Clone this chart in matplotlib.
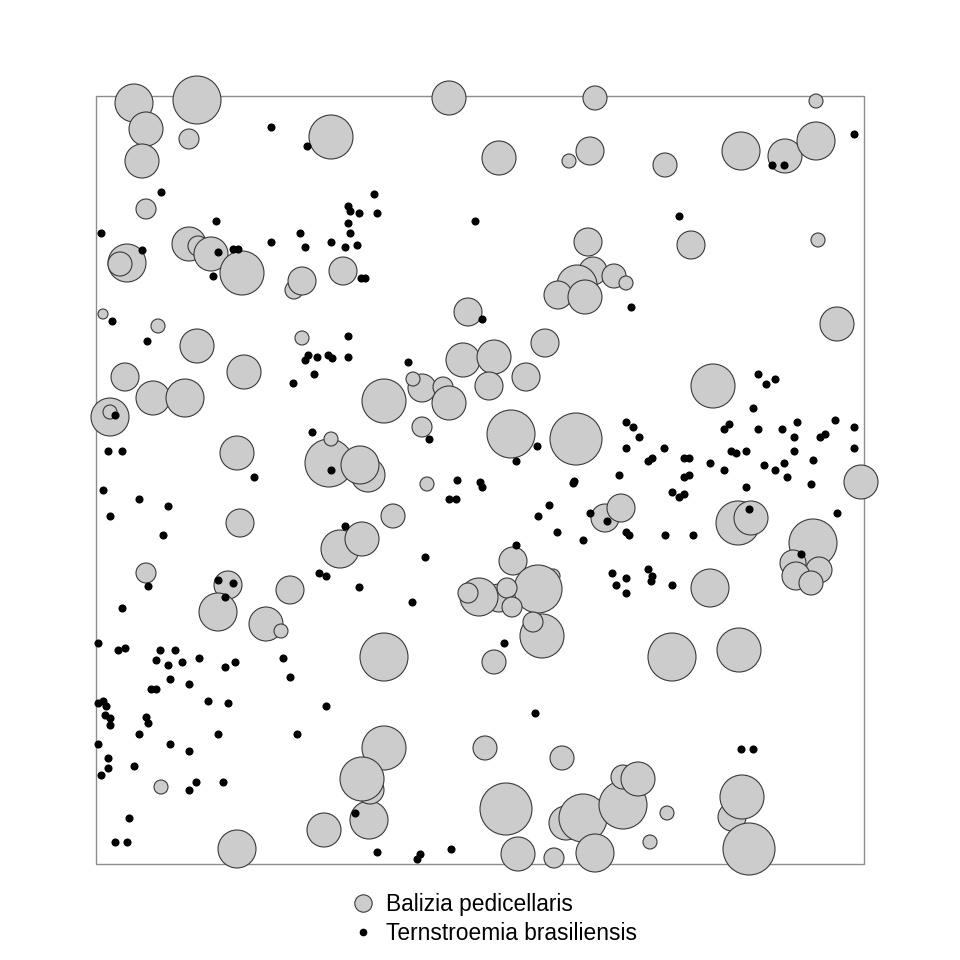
import matplotlib
matplotlib.use("Agg")
import matplotlib.pyplot as plt
from matplotlib.patches import Circle, Rectangle
from matplotlib.lines import Line2D

plt.rcParams['font.family'] = ['Liberation Sans', 'DejaVu Sans']

# observation window (metres)
win_w = 768
win_h = 768

# Balizia pedicellaris: position and mark (circle diameter)
bal_x = [38, 101, 50, 46, 93, 235, 50, 31, 24, 93, 102, 115, 146, 198, 206, 247, 7, 62,
         98, 101, 206, 353, 499, 403, 494, 473, 492, 497, 518, 481, 462, 489, 530, 372,
         449, 367, 398, 720, 645, 689, 720, 569, 595, 722, 741, 29, 57, 89, 14, 14, 148,
         141, 144, 50, 132, 122, 194, 233, 235, 272, 264, 244, 266, 170, 185, 393, 430,
         288, 326, 317, 347, 353, 326, 415, 480, 331, 297, 509, 525, 417, 457, 442, 403,
         383, 372, 411, 617, 765, 642, 655, 717, 697, 723, 700, 715, 614, 65, 141, 228,
         273, 446, 437, 416, 288, 398, 288, 274, 266, 389, 466, 410, 422, 458, 470, 487,
         499, 527, 527, 542, 576, 643, 571, 554, 636, 646, 653]
bal_y = [761, 764, 735, 703, 725, 727, 655, 601, 600, 620, 618, 610, 591, 574, 583, 593, 550, 538,
         513, 518, 526, 766, 766, 706, 713, 703, 622, 593, 588, 579, 569, 567, 581, 552,
         521, 504, 507, 763, 713, 708, 723, 699, 619, 624, 540, 487, 466, 466, 447, 452, 492,
         411, 341, 291, 279, 252, 274, 401, 425, 389, 399, 315, 325, 240, 233, 478, 487,
         463, 476, 485, 477, 461, 437, 430, 425, 380, 348, 346, 356, 303, 288, 275, 266,
         267, 271, 276, 478, 382, 341, 346, 321, 301, 294, 288, 281, 276, 77, 15, 34,
         44, 228, 242, 257, 207, 202, 116, 74, 85, 116, 106, 55, 10, 6, 41, 46,
         11, 59, 87, 85, 207, 214, 51, 22, 47, 67, 15]
bal_d = [38, 48, 34, 34, 20, 44, 20, 38, 24, 34, 20, 34, 44, 18, 28, 28, 10, 14,
         22, 34, 14, 34, 24, 34, 28, 14, 28, 28, 24, 40, 28, 34, 14, 28,
         28, 34, 34, 14, 38, 34, 38, 24, 28, 14, 34, 28, 34, 38, 38, 14, 34,
         34, 28, 20, 28, 38, 28, 48, 14, 34, 38, 38, 34, 34, 14, 28, 28,
         44, 28, 14, 20, 34, 20, 48, 52, 14, 24, 28, 28, 28, 14, 48, 28,
         38, 20, 20, 44, 34, 44, 34, 48, 26, 26, 28, 24, 38, 14, 38, 34,
         38, 44, 20, 20, 48, 24, 44, 28, 44, 24, 24, 52, 34, 20, 34, 48,
         38, 48, 24, 34, 48, 44, 14, 14, 28, 44, 52]

# Ternstroemia brasiliensis: positions
ter_x = [175, 211, 65, 120, 5, 46, 122, 137, 142, 117, 175, 204, 209, 252, 254, 263, 252, 254,
         235, 249, 261, 16, 51, 252, 265, 269, 278, 281, 379, 386, 758, 676, 688, 583, 535,
         212, 209, 221, 232, 236, 252, 218, 197, 19, 12, 26, 216, 235, 158, 7, 43, 72, 14,
         67, 249, 52, 122, 137, 129, 223, 230, 26, 263, 312, 333, 420, 441, 361, 384, 386,
         353, 360, 478, 477, 453, 442, 461, 487, 494, 511, 523, 420, 329, 316, 516, 520,
         662, 670, 679, 657, 530, 537, 543, 530, 568, 552, 556, 588, 593, 588, 593, 614,
         628, 628, 633, 635, 640, 650, 662, 686, 701, 698, 698, 668, 679, 688, 691, 717,
         715, 724, 729, 739, 758, 758, 576, 583, 588, 650, 653, 741, 530, 533, 569, 597,
         705, 530, 530, 552, 556, 555, 576, 2, 22, 29, 64, 79, 60, 72, 86, 103, 129, 139,
         187, 194, 74, 93, 55, 60, 112, 132, 230, 2, 7, 10, 9, 14, 14, 50, 52, 43, 122,
         201, 2, 74, 93, 12, 12, 5, 38, 100, 93, 127, 33, 19, 31, 259, 408, 439, 281, 324,
         321, 355, 645, 657]
ter_y = [737, 718, 672, 643, 631, 614, 612, 615, 615, 588, 622, 631, 617, 658, 653, 651, 641, 631,
         622, 617, 619, 543, 523, 528, 586, 586, 670, 651, 643, 545, 730, 699, 699, 648, 557,
         509, 504, 507, 509, 506, 507, 490, 481, 449, 413, 413, 432, 394, 387, 374, 365, 358, 348,
         329, 338, 278, 284, 281, 267, 291, 288, 256, 277, 502, 425, 403, 418, 384, 382, 377,
         365, 365, 383, 381, 359, 348, 332, 324, 351, 343, 389, 319, 307, 262, 291, 279,
         490, 480, 485, 456, 442, 437, 427, 416, 416, 403, 406, 406, 406, 387, 389, 401,
         394, 435, 440, 413, 411, 413, 435, 435, 442, 427, 413, 399, 394, 401, 387, 404,
         380, 427, 430, 444, 437, 416, 372, 367, 370, 377, 355, 351, 332, 329, 329, 329,
         310, 286, 271, 295, 288, 283, 279, 221, 214, 216, 214, 214, 204, 199, 202, 206, 197, 202,
         206, 187, 185, 180, 175, 175, 163, 161, 158, 161, 163, 158, 149, 146, 139, 147, 141, 130, 130,
         130, 120, 120, 113, 106, 96, 89, 98, 82, 74, 82, 46, 22, 22, 51, 221, 151, 12, 10,
         5, 15, 115, 115]

species = ['Balizia pedicellaris', 'Ternstroemia brasiliensis']

fig = plt.figure(figsize=(9.6, 9.6), dpi=100)
ax = fig.add_axes([0.1, 0.1, 0.8, 0.8])
ax.set_xlim(0, win_w)
ax.set_ylim(0, win_h)
ax.set_aspect('equal')
ax.axis('off')

# window outline
ax.add_patch(Rectangle((0, 0), win_w, win_h, fill=False, edgecolor='#8c8c8c', lw=1.0,
                       zorder=1, clip_on=False))

for x, y, d in zip(bal_x, bal_y, bal_d):
    ax.add_patch(Circle((x, y), d / 2, facecolor='#cccccc', edgecolor='#3a3a3a',
                        lw=0.8, clip_on=False, zorder=2))

ax.scatter(ter_x, ter_y, s=34, c='black', linewidths=0, zorder=3, clip_on=False)

# legend below the window
fig.add_artist(Line2D([363 / 960], [1 - 903 / 960], marker='o', markersize=12.5,
                      markerfacecolor='#cccccc', markeredgecolor='#3a3a3a',
                      markeredgewidth=0.8, linestyle='none', transform=fig.transFigure))
fig.add_artist(Line2D([363 / 960], [1 - 932 / 960], marker='o', markersize=4.5,
                      color='black', linestyle='none', transform=fig.transFigure))
fig.text(386 / 960, 1 - 904 / 960, species[0], fontsize=16.4, va='center', ha='left')
fig.text(386 / 960, 1 - 933 / 960, species[1], fontsize=16.4, va='center', ha='left')

fig.savefig('out.png', dpi=100)
